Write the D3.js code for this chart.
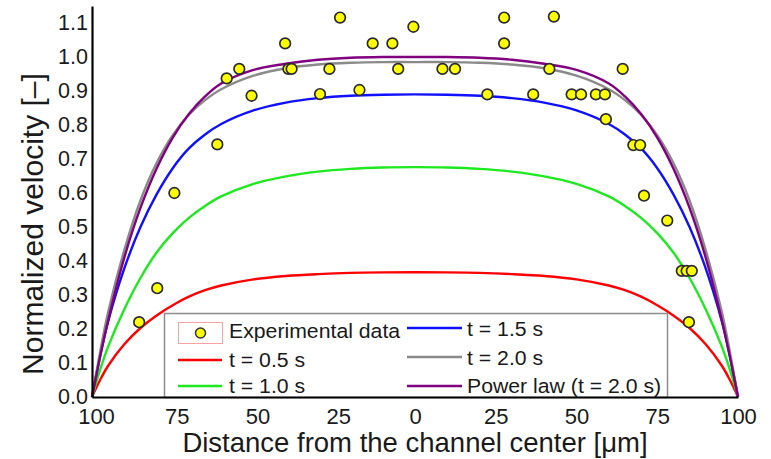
<!DOCTYPE html>
<html><head><meta charset="utf-8">
<script src="https://cdn.jsdelivr.net/npm/d3@7"></script>
<style>body{margin:0;background:#fff}svg{display:block}text{font-family:"Liberation Sans",Arial,sans-serif;fill:#1a1a1a}</style>
</head><body><svg id="c" width="771" height="459"></svg>
<script>
const positions = [-100,-97.5,-95,-90,-85,-80,-75,-70,-65,-60,-50,-40,-30,-20,-10,0,10,20,30,40,50,60,65,70,75,80,85,90,95,97.5,100];
const red    = [0,0.05,0.092,0.155,0.203,0.24,0.27,0.295,0.314,0.328,0.346,0.356,0.3615,0.365,0.3665,0.367,0.3665,0.365,0.3615,0.356,0.346,0.328,0.314,0.295,0.27,0.24,0.203,0.155,0.092,0.05,0];
const green  = [0,0.08,0.148,0.258,0.35,0.425,0.482,0.527,0.562,0.59,0.627,0.649,0.663,0.671,0.675,0.676,0.675,0.671,0.663,0.649,0.627,0.59,0.562,0.527,0.482,0.425,0.35,0.258,0.148,0.08,0];
const blue   = [0,0.12,0.222,0.378,0.5,0.596,0.673,0.731,0.772,0.803,0.843,0.866,0.879,0.886,0.889,0.89,0.889,0.886,0.879,0.866,0.843,0.803,0.772,0.731,0.673,0.596,0.5,0.378,0.222,0.12,0];
const gray   = [0,0.132,0.25,0.432,0.578,0.688,0.77,0.83,0.873,0.905,0.945,0.967,0.978,0.983,0.985,0.985,0.985,0.983,0.978,0.967,0.945,0.905,0.873,0.83,0.77,0.688,0.578,0.432,0.25,0.132,0];
const purple = [0,0.118,0.226,0.41,0.556,0.672,0.763,0.832,0.884,0.922,0.962,0.98,0.992,0.998,1.0,1.0,1.0,0.998,0.992,0.98,0.962,0.922,0.884,0.832,0.763,0.672,0.556,0.41,0.226,0.118,0];

const expX = [-85.4,-79.8,-74.5,-61.2,-58.3,-54.4,-50.6,-40.2,-39.2,-38.2,-29.4,-26.5,-23.2,-17.2,-13.1,-7.0,-5.2,-0.5,8.5,12.4,22.4,27.6,27.6,36.6,41.6,43.0,48.5,51.4,56.0,58.8,59.1,64.3,67.6,69.7,70.9,78.1,82.6,84.1,85.7,84.8];
const expY = [0.22,0.32,0.60,0.743,0.937,0.965,0.886,1.04,0.965,0.965,0.891,0.965,1.116,0.903,1.04,1.04,0.965,1.089,0.965,0.965,0.89,1.116,1.04,0.89,0.965,1.119,0.89,0.89,0.89,0.89,0.817,0.965,0.741,0.741,0.592,0.519,0.371,0.371,0.371,0.22];

const xTicks = [-100,-75,-50,-25,0,25,50,75,100];
const yTicks = [0,0.1,0.2,0.3,0.4,0.5,0.6,0.7,0.8,0.9,1.0,1.1];

const seriesNames = ["t = 0.5 s","t = 1.0 s","t = 1.5 s","t = 2.0 s","Power law (t = 2.0 s)"];
const seriesVals = [red, green, blue, gray, purple];
const seriesColors = ["#ff0000","#1ee81e","#1010ff","#8a8a8a","#800080"];

const svg = d3.select("#c");
svg.append("rect").attr("width",771).attr("height",459).attr("fill","#fff");
const x = d3.scaleLinear().domain([-100,100]).range([92,738]);
const y = d3.scaleLinear().domain([0,1.15]).range([397,6]);

// curves
const line = d3.line().x(d=>x(d[0])).y(d=>y(d[1])).curve(d3.curveCatmullRom.alpha(0.5));
seriesVals.forEach((vals,i)=>{
  svg.append("path").attr("d", line(positions.map((p,j)=>[p, vals[j]])))
    .attr("fill","none").attr("stroke",seriesColors[i]).attr("stroke-width",2.4);
});

// legend
const lg = svg.append("g");
lg.append("rect").attr("x",164.5).attr("y",313.5).attr("width",503).attr("height",84)
  .attr("fill","#fff").attr("stroke","#8c8c8c").attr("stroke-width",1.5);
lg.append("rect").attr("x",178.5).attr("y",322.5).attr("width",44).attr("height",21)
  .attr("fill","#fff").attr("stroke","#f5a3a3").attr("stroke-width",1);
lg.append("circle").attr("cx",200.5).attr("cy",333).attr("r",5).attr("fill","#ffff00").attr("stroke","#333").attr("stroke-width",1.5);
function ltext(tx,ty,s){
  lg.append("text").attr("transform",`translate(${tx},${ty}) scale(1.09,1)`).attr("font-size",19.5).text(s);
}
ltext(229,338,"Experimental data");
const legPos = [[178,222,360,229,366.5],[178,222,386,229,392.5],[407,462,328,467,335.5],[407,462,357,467,364.5],[407,462,386,467,392.5]];
legPos.forEach((p,i)=>{
  lg.append("line").attr("x1",p[0]).attr("x2",p[1]).attr("y1",p[2]).attr("y2",p[2])
    .attr("stroke",seriesColors[i]).attr("stroke-width",2.4);
  ltext(p[3],p[4],seriesNames[i]);
});

// points
svg.append("g").selectAll("circle").data(expX.map((v,i)=>[v,expY[i]])).join("circle")
  .attr("cx",d=>x(d[0])).attr("cy",d=>y(d[1])).attr("r",5.3)
  .attr("fill","#ffff00").attr("stroke","#2a2a2a").attr("stroke-width",1.7);

// axes
const xa = svg.append("g").attr("transform","translate(0,397)")
  .call(d3.axisBottom(x).tickValues(xTicks).tickSize(0).tickPadding(11).tickFormat(d=>Math.abs(d)));
xa.select(".domain").attr("stroke","#000").attr("stroke-width",2.2);
xa.selectAll("text").attr("font-size",22).attr("fill","#1a1a1a").attr("font-family",null)
  .attr("dx",d=>d<0?4:0);
const ya = svg.append("g").attr("transform","translate(92,0)")
  .call(d3.axisLeft(y).tickValues(yTicks).tickSize(0).tickPadding(4).tickFormat(d3.format(".1f")));
ya.select(".domain").attr("stroke","#000").attr("stroke-width",2.2);
ya.selectAll("text").attr("font-size",21.5).attr("fill","#1a1a1a").attr("font-family",null);

// titles
svg.append("text").attr("x",415).attr("y",452).attr("text-anchor","middle").attr("font-size",27.5)
  .text("Distance from the channel center [\u03bcm]");
svg.append("text").attr("transform","translate(43,224) rotate(-90)").attr("text-anchor","middle").attr("font-size",30)
  .text("Normalized velocity [\u2013]");
</script></body></html>
